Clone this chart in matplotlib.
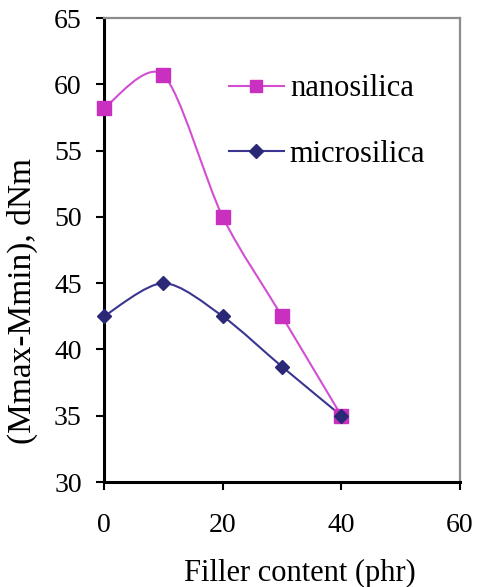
import numpy as np
import matplotlib
matplotlib.use("Agg")
import matplotlib.pyplot as plt
from matplotlib.path import Path
from matplotlib.patches import PathPatch
from matplotlib.lines import Line2D

plt.rcParams['font.family'] = ['Liberation Serif', 'DejaVu Serif']

filler = [0, 10, 20, 30, 40]
nanosilica = [58.2, 60.7, 50.0, 42.5, 35.0]
microsilica = [42.5, 45.0, 42.5, 38.7, 35.0]
x_ticks = [0, 20, 40, 60]
y_ticks = [30, 35, 40, 45, 50, 55, 60, 65]

NANO_LINE = '#D24FD2'
NANO_MARK = '#C930C0'
MICRO_LINE = '#3A3590'
MICRO_MARK = '#2C2878'


def smooth_path(xs, ys, k=7.0):
    """Bezier smoothing through every point (Catmull-Rom style)."""
    pts = np.column_stack([xs, ys]).astype(float)
    n = len(pts)
    verts = [pts[0]]
    codes = [Path.MOVETO]
    for i in range(n - 1):
        p0 = pts[i - 1] if i > 0 else pts[i]
        p1 = pts[i]
        p2 = pts[i + 1]
        p3 = pts[i + 2] if i + 2 < n else pts[i + 1]
        c1 = p1 + (p2 - p0) / k
        c2 = p2 - (p3 - p1) / k
        verts += [c1, c2, p2]
        codes += [Path.CURVE4] * 3
    return Path(verts, codes)


fig = plt.figure(figsize=(4.8, 5.87), dpi=100)
ax = fig.add_axes([104 / 480, 1 - 482 / 587, (460 - 104) / 480, (482 - 18) / 587])

for ys, lc in [(nanosilica, NANO_LINE), (microsilica, MICRO_LINE)]:
    ax.add_patch(PathPatch(smooth_path(filler, ys), facecolor='none',
                           edgecolor=lc, lw=1.5, zorder=3))

ax.plot(filler, nanosilica, linestyle='none', marker='s', markersize=10,
        color=NANO_MARK, zorder=4, clip_on=False)
ax.plot(filler, microsilica, linestyle='none', marker='D', markersize=7.5,
        color=MICRO_MARK, zorder=4, clip_on=False)

ax.set_xlim(0, 60)
ax.set_ylim(30, 65)
ax.set_xticks(x_ticks)
ax.set_yticks(y_ticks)
ax.tick_params(axis='x', direction='out', length=6, width=1.5, pad=16, labelsize=20)
ax.tick_params(axis='y', direction='out', length=6, width=1.5, pad=10, labelsize=20)

for side in ['left', 'bottom']:
    ax.spines[side].set_linewidth(2.2)
    ax.spines[side].set_color('black')
for side in ['top', 'right']:
    ax.spines[side].set_linewidth(1.6)
    ax.spines[side].set_color('#8c8c8c')

handles = [
    Line2D([], [], color=NANO_LINE, lw=1.5, marker='s', markersize=9,
           markerfacecolor=NANO_MARK, markeredgecolor=NANO_MARK),
    Line2D([], [], color=MICRO_LINE, lw=1.5, marker='D', markersize=7,
           markerfacecolor=MICRO_MARK, markeredgecolor=MICRO_MARK),
]
ax.legend(handles, ['nanosilica', 'microsilica'], loc='upper left',
          bbox_to_anchor=(0.316, 0.905), frameon=False, fontsize=22,
          handlelength=1.8, handletextpad=0.2, labelspacing=1.2,
          borderaxespad=0)

fig.text(22 / 480, 1 - 301 / 587, '(Mmax-Mmin), dNm', rotation=90,
         ha='center', va='center', fontsize=24)
fig.text(300 / 480, 1 - 573 / 587, 'Filler content (phr)',
         ha='center', va='center', fontsize=22)

fig.savefig('out.png', dpi=100)
